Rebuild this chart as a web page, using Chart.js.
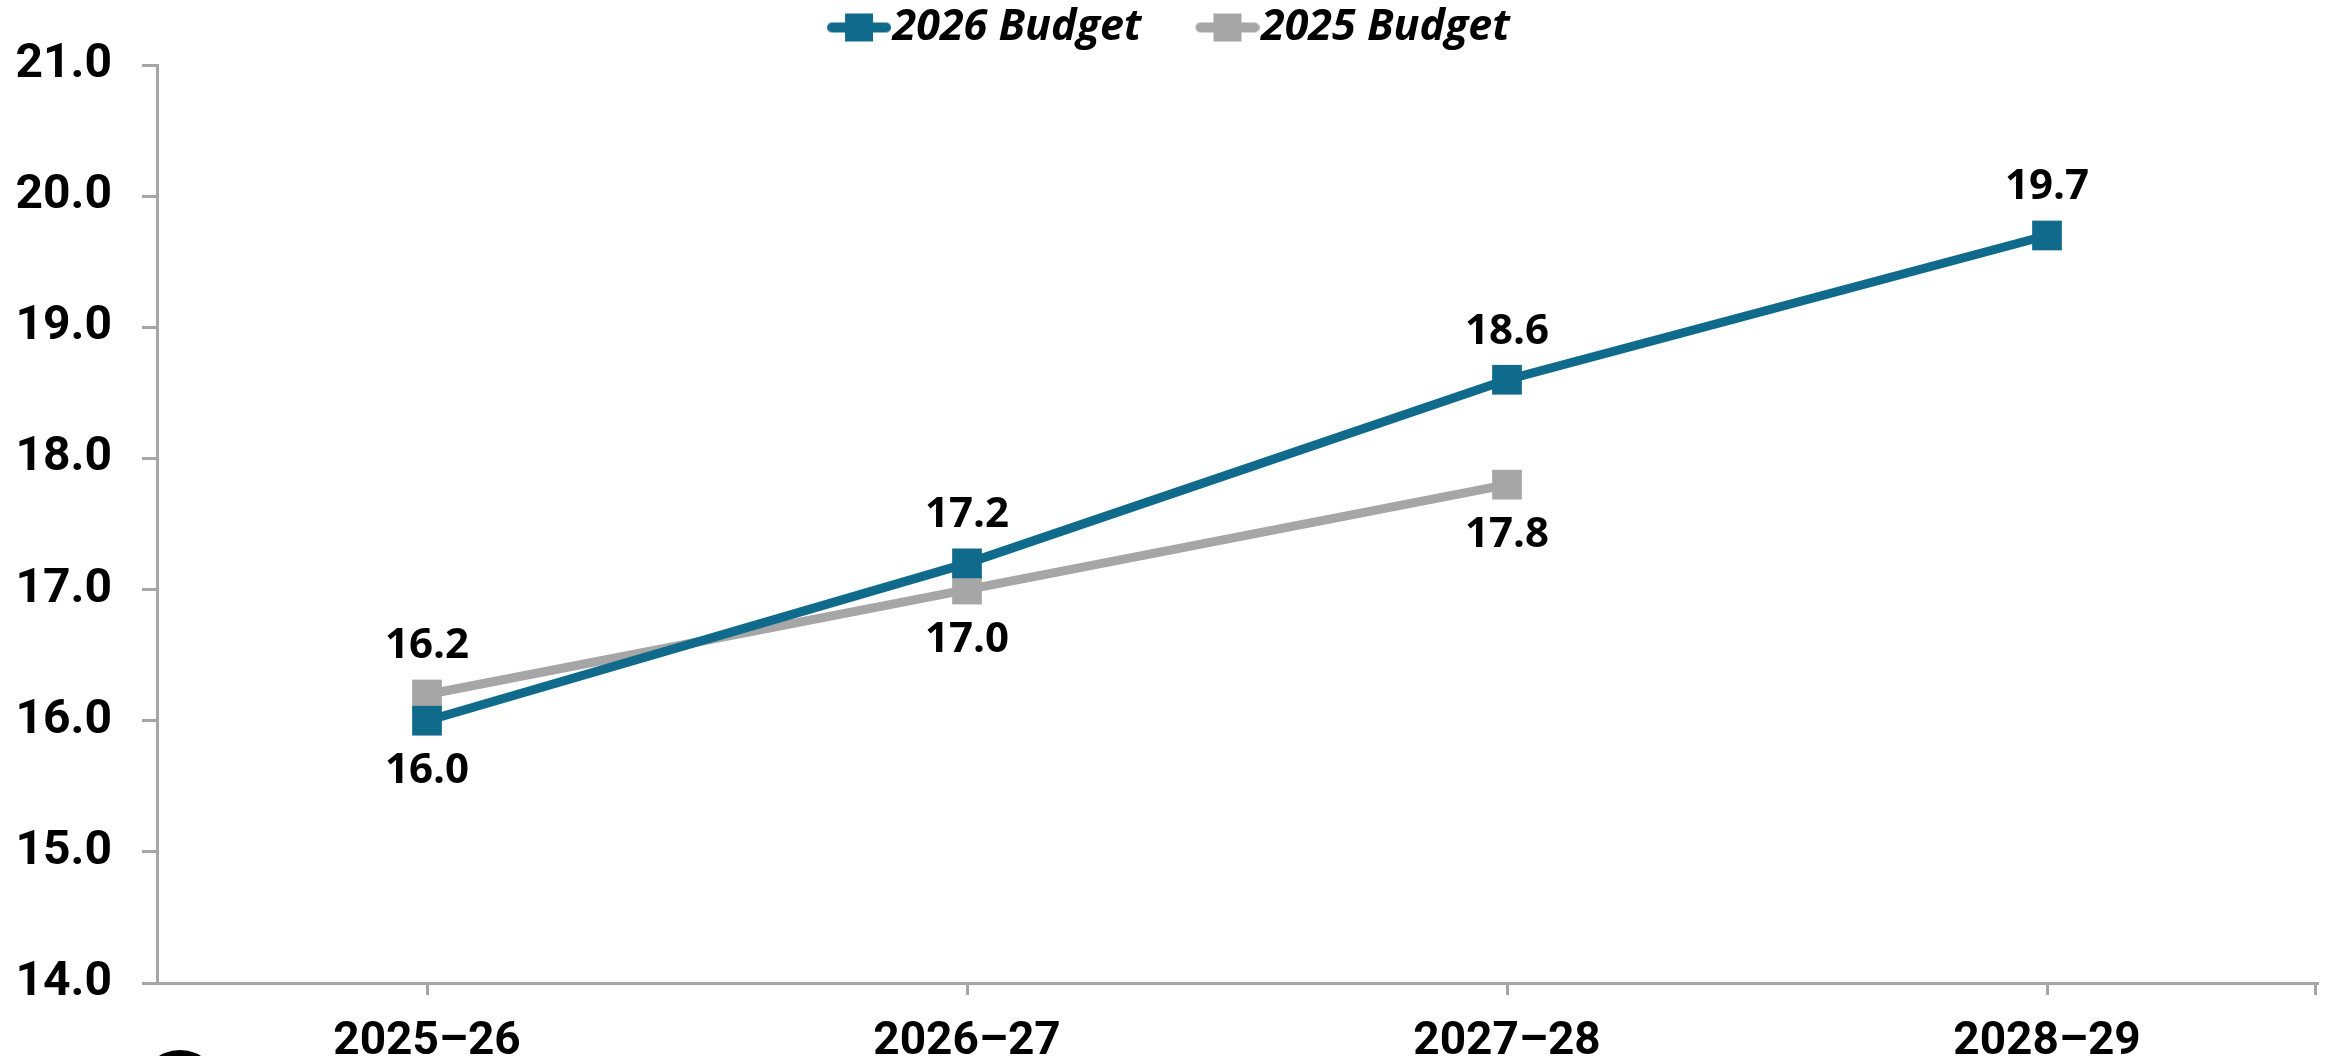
<!DOCTYPE html>
<html lang="en">
<head>
  <meta charset="UTF-8" />
  <title>Budget comparison</title>
  <script src="https://cdn.jsdelivr.net/npm/chart.js"></script>
  <style>
    html, body { margin: 0; padding: 0; background: #fff; }
    #wrap { width: 2330px; height: 1056px; }
  </style>
</head>
<body>
  <div id="wrap"><canvas id="budgetChart" width="2330" height="1056"></canvas></div>
  <script>
    // data
    const years = ['2025–26', '2026–27', '2027–28', '2028–29'];
    const budget2026 = [16.0, 17.2, 18.6, 19.7];
    const budget2025 = [16.2, 17.0, 17.8, null];
    const yTicks = [14, 15, 16, 17, 18, 19, 20, 21];

    // label placement for each point (above / below)
    const pos2026 = ['below', 'above', 'above', 'above'];
    const pos2025 = ['above', 'below', 'below', 'below'];

    const BLUE = '#0f6a8c';
    const GREY = '#a6a6a6';
    const AXIS = '#a6a6a6';

    // legend marker: line with a square, drawn at the right end of a wider
    // canvas so there is more room between the two legend entries
    function legendMarker(color) {
      const c = document.createElement('canvas');
      c.width = 130; c.height = 32;
      const g = c.getContext('2d');
      g.strokeStyle = color;
      g.lineWidth = 10;
      g.lineCap = 'round';
      g.beginPath();
      g.moveTo(71, 16); g.lineTo(125, 16);
      g.stroke();
      g.fillStyle = color;
      g.fillRect(84, 2, 28, 28);
      return c;
    }

    const valueLabels = {
      id: 'valueLabels',
      afterDatasetsDraw(chart) {
        const ctx = chart.ctx;
        ctx.save();
        ctx.font = 'bold 42px "Open Sans", sans-serif';
        ctx.fillStyle = '#000';
        ctx.textAlign = 'center';
        ctx.textBaseline = 'middle';
        chart.data.datasets.forEach((ds, i) => {
          const meta = chart.getDatasetMeta(i);
          meta.data.forEach((pt, j) => {
            const v = ds.data[j];
            if (v === null || v === undefined) return;
            const off = ds.labelPos[j] === 'above' ? -48 : 50;
            ctx.fillText(v.toFixed(1), pt.x, pt.y + off);
          });
        });
        ctx.restore();
      }
    };

    // nudge the legend a little left and up (marker canvas is off-centre)
    const legendShift = {
      id: 'legendShift',
      afterLayout(chart) {
        if (chart.legend) {
          chart.legend.left -= 13;
          chart.legend.right -= 13;
          chart.legend.top -= 6;
        }
      }
    };

    // extra tick at the right end of the x axis + cropped logo edge
    const extras = {
      id: 'extras',
      afterDraw(chart) {
        const a = chart.chartArea;
        const ctx = chart.ctx;
        ctx.save();
        ctx.strokeStyle = AXIS;
        ctx.lineWidth = 3;
        ctx.beginPath();
        ctx.moveTo(a.right - 1.5, a.bottom);
        ctx.lineTo(a.right - 1.5, a.bottom + 12);
        ctx.stroke();
        ctx.fillStyle = '#000';
        ctx.beginPath();
        ctx.arc(180, 1090, 40, 0, Math.PI * 2);
        ctx.fill();
        ctx.restore();
      }
    };

    const ctx = document.getElementById('budgetChart').getContext('2d');
    new Chart(ctx, {
      type: 'line',
      data: {
        labels: years,
        datasets: [
          {
            label: '2026 Budget',
            data: budget2026,
            labelPos: pos2026,
            borderColor: BLUE,
            backgroundColor: BLUE,
            borderWidth: 9,
            pointStyle: 'rect',
            pointRadius: 21,
            pointBorderWidth: 0,
            tension: 0
          },
          {
            label: '2025 Budget',
            data: budget2025,
            labelPos: pos2025,
            borderColor: GREY,
            backgroundColor: GREY,
            borderWidth: 9,
            pointStyle: 'rect',
            pointRadius: 21,
            pointBorderWidth: 0,
            tension: 0
          }
        ]
      },
      options: {
        responsive: false,
        animation: false,
        layout: { autoPadding: false, padding: { top: 4, right: 13, left: 0, bottom: 0 } },
        plugins: {
          tooltip: { enabled: false },
          legend: {
            position: 'top',
            labels: {
              usePointStyle: true,
              pointStyleWidth: 90,
              padding: 8,
              color: '#000',
              font: { family: '"Open Sans", sans-serif', size: 43, weight: 'bold', style: 'italic' },
              generateLabels(chart) {
                const items = Chart.defaults.plugins.legend.labels.generateLabels(chart);
                items.forEach((it, i) => {
                  it.pointStyle = legendMarker(i === 0 ? BLUE : GREY);
                });
                return items;
              }
            }
          }
        },
        scales: {
          x: {
            offset: true,
            grid: {
              offset: false,
              drawOnChartArea: false,
              drawTicks: true,
              tickLength: 12,
              color: AXIS,
              lineWidth: 3
            },
            border: { color: AXIS, width: 3 },
            ticks: {
              color: '#000',
              padding: 20,
              font: { family: 'Roboto, sans-serif', size: 46, weight: 'bold' }
            },
            afterFit(scale) { scale.height = 73; }
          },
          y: {
            min: 14,
            max: 21,
            afterBuildTicks(scale) {
              scale.ticks = yTicks.map(v => ({ value: v }));
            },
            grid: {
              drawOnChartArea: false,
              drawTicks: true,
              tickLength: 15,
              color: AXIS,
              lineWidth: 3
            },
            border: { color: AXIS, width: 3 },
            ticks: {
              color: '#000',
              padding: 30,
              font: { family: 'Roboto, sans-serif', size: 48, weight: 'bold' },
              callback: v => Number(v).toFixed(1)
            },
            afterFit(scale) { scale.width = 157; }
          }
        }
      },
      plugins: [valueLabels, legendShift, extras]
    });
  </script>
</body>
</html>
